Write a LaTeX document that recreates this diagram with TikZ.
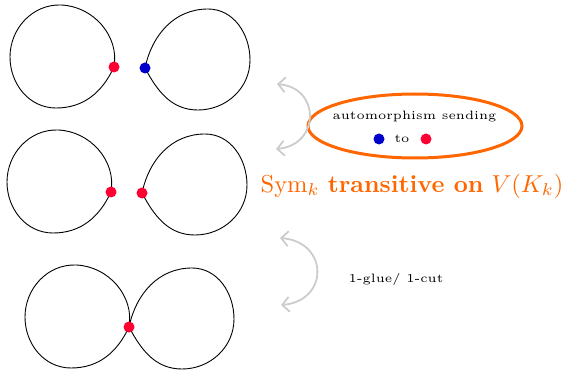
\documentclass[tikz,border=0pt]{standalone}
\usetikzlibrary{arrows.meta,shapes.geometric}
\definecolor{dotred}{HTML}{FF0033}
\definecolor{dotblue}{HTML}{0000CC}
\definecolor{accent}{HTML}{FF6600}
\definecolor{swap}{HTML}{CCCCCC}
\begin{document}
\begin{tikzpicture}[x=1pt,y=1pt,
  loop/.style={draw=black, line width=0.9pt},
  vtx/.style={circle, inner sep=0pt, minimum size=11pt},
  redv/.style={vtx, fill=dotred},
  bluev/.style={vtx, fill=dotblue},
  swaparrow/.style={draw=swap, line width=1.8pt, {Straight Barb[length=7pt,width=15pt]}-{Straight Barb[length=7pt,width=15pt]}},
  small/.style={inner sep=0pt, scale=2.43, font=\tiny},
  big/.style={inner sep=0pt, scale=2.45},
  % a round loop hanging to the left of its vertex
  leftloop/.pic={\draw[loop] (0,0) to[out=80,in=-2] (-53,62)
      to[out=178,in=90] (-104,10) to[out=-90,in=180] (-58,-41)
      to[out=0,in=-115] (0,0);},
  % a rounder-cornered loop hanging to the right of its vertex
  rightloop/.pic={\draw[loop] (0,0) to[out=78,in=180] (63,59)
      to[out=0,in=90] (105,8) to[out=-90,in=0] (53,-42)
      to[out=180,in=-62] (0,0);},
]
\useasboundingbox (0,0) rectangle (565,370);

% top row: two separate loops, one red and one blue vertex
\coordinate (a1) at (114,303);
\coordinate (b1) at (145,302);
\pic at (a1) {leftloop};
\pic at (b1) {rightloop};
\node[redv] (va1) at (a1) {};
\node[bluev] (vb1) at (b1) {};

% middle row: two separate loops, both vertices red
\coordinate (a2) at (111,178);
\coordinate (b2) at (142,177);
\pic at (a2) {leftloop};
\pic at (b2) {rightloop};
\node[redv] (va2) at (a2) {};
\node[redv] (vb2) at (b2) {};

% bottom row: both loops glued at one vertex
\coordinate (c3) at (129,43);
\pic at (c3) {leftloop};
\pic at (c3) {rightloop};
\node[redv] (vc3) at (c3) {};

% automorphism annotation
\node[draw=accent, line width=3pt, ellipse, minimum width=214pt, minimum height=64pt, inner sep=0pt] (auto) at (415,244) {};
\node[small] (autotxt) at (414.5,253) {automorphism sending};
\node[small] (totxt) at (402,231) {to};
\node[bluev] (from) at (379,231) {};
\node[redv] (tov) at (426,231) {};
\node[big, text=accent] (sym) at (412,184) {Sym$_k$ \textbf{transitive on} $V(K_k)$};

% swap arrows
\coordinate (s1) at (277,286);
\coordinate (s2) at (276,221);
\draw[swaparrow] (s1) .. controls (321,282) and (320,225) .. (s2);
\coordinate (t1) at (280,132);
\coordinate (t2) at (281,65);
\draw[swaparrow] (t1) .. controls (329,128) and (329,69) .. (t2);
\node[small] (glue) at (396,91) {1-glue/ 1-cut};
\end{tikzpicture}
\end{document}
